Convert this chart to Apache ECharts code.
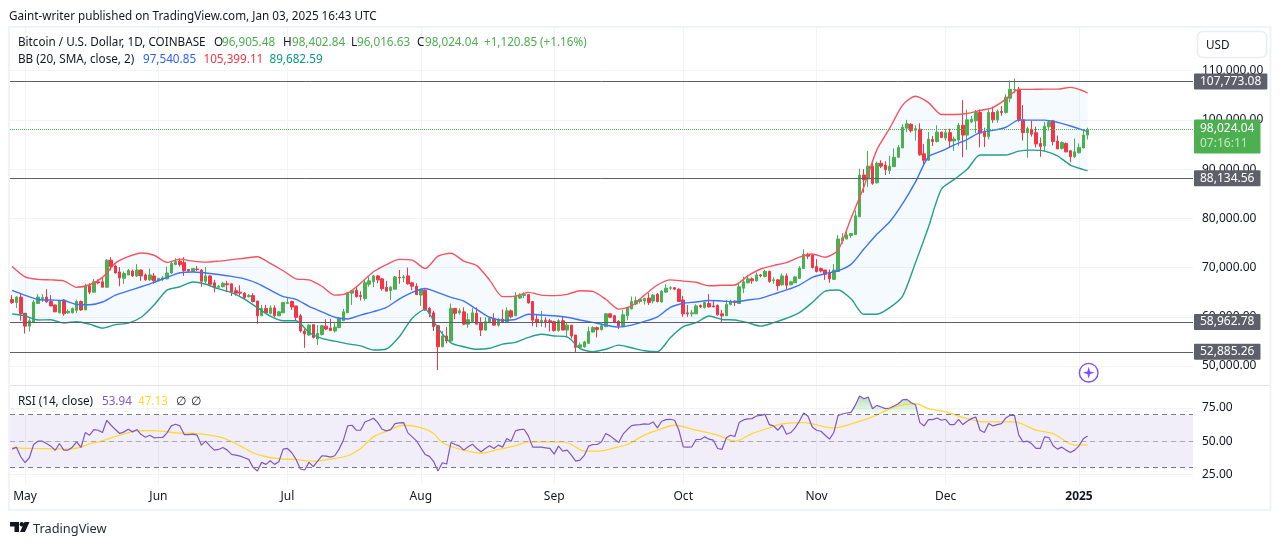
<!DOCTYPE html>
<html><head><meta charset="utf-8">
<style>html,body{margin:0;padding:0;background:#fff}#c{width:1281px;height:545px}</style>
<script src="https://cdn.jsdelivr.net/npm/echarts@6/dist/echarts.min.js"></script>
</head><body><div id="c"></div>
<script>
const opensK=[63.5,62.9,64.0,60.7,58.1,58.9,62.7,63.7,64.0,63.1,
62.4,60.8,63.4,60.8,60.8,61.3,63.1,61.4,66.3,65.0,
67.1,67.1,66.0,71.5,70.3,69.1,67.8,68.5,69.3,68.3,
69.5,68.5,67.5,68.3,67.3,67.6,67.7,68.9,70.6,71.3,
71.0,69.6,69.2,69.7,69.5,67.2,68.3,66.9,66.0,66.1,
66.7,66.7,65.3,65.0,64.8,64.1,64.3,63.2,60.2,61.7,
60.7,61.8,60.2,60.8,62.7,63.1,62.2,60.2,57.1,56.3,
58.4,55.5,56.4,58.1,57.7,57.1,57.8,59.2,60.8,64.8,
65.4,64.3,63.7,66.6,67.1,68.3,67.7,66.0,65.3,65.6,
68.0,67.9,68.3,66.9,66.2,64.4,65.4,61.7,60.8,58.2,
53.9,56.1,55.1,61.7,60.8,61.0,58.5,59.0,60.7,58.8,
57.3,58.8,59.6,58.3,59.5,58.9,61.2,60.2,63.8,64.3,
64.5,63.1,59.5,58.9,59.3,59.2,59.0,57.2,59.2,57.3,
58.3,56.3,53.8,53.9,54.6,56.9,57.8,57.4,58.0,60.6,
60.2,59.1,58.0,60.2,61.6,62.6,63.1,63.2,63.8,63.2,
64.6,63.0,65.0,65.8,65.9,65.6,63.4,60.8,60.6,60.6,
62.3,61.9,62.7,62.2,62.3,60.6,60.2,62.5,63.2,62.7,
65.8,66.9,67.7,67.3,68.5,68.2,69.2,67.3,67.5,66.5,
68.3,66.5,66.9,67.8,69.8,72.7,72.5,70.2,69.8,69.5,
68.9,67.6,69.2,75.4,75.8,76.5,76.7,80.3,88.8,88.0,
90.6,87.2,91.2,90.8,89.7,90.5,92.4,94.3,98.3,99.1,
97.9,98.1,93.1,91.8,96.0,95.6,97.5,96.3,97.4,95.7,
95.9,98.9,96.9,99.6,99.8,101.5,97.5,96.6,101.5,100.0,
101.7,101.5,104.4,106.1,106.2,100.0,97.4,98.1,97.4,95.2,
94.7,98.6,99.8,95.7,94.2,95.2,93.7,92.5,93.3,94.3,
96.905];
const closesK=[62.9,64.0,60.6,58.1,59.2,63.0,64.0,63.9,63.0,62.2,
61.0,63.3,60.6,61.1,61.7,63.1,61.4,66.2,65.0,67.1,
66.9,66.0,71.5,70.2,68.9,67.9,68.8,69.4,68.3,69.5,
68.3,67.5,68.5,67.3,67.8,67.9,68.9,70.8,71.2,70.6,
69.4,69.3,69.8,69.6,67.2,68.3,66.6,65.9,66.2,66.8,
66.5,65.0,64.8,64.8,63.9,64.3,63.1,60.2,61.7,60.8,
61.8,60.2,61.0,62.9,62.9,62.0,59.9,57.1,56.5,58.3,
55.8,56.6,58.2,57.5,57.2,57.9,59.7,61.0,64.9,65.3,
64.1,64.1,66.9,67.3,68.3,67.5,65.7,65.2,66.0,68.1,
67.9,68.1,66.7,66.2,64.5,65.6,61.4,60.7,58.0,53.9,
56.1,55.1,61.7,60.7,61.2,58.5,59.4,60.8,58.5,57.3,
59.0,59.7,58.3,59.5,58.9,61.2,60.0,64.2,64.3,64.6,
62.8,59.3,58.9,59.3,59.0,58.9,57.2,59.2,57.3,58.3,
56.1,53.8,54.3,54.9,57.0,57.8,57.4,58.2,60.6,59.9,
58.9,58.1,60.4,61.8,63.1,63.3,63.5,63.7,62.9,64.4,
63.1,65.2,65.8,65.9,65.6,63.1,60.6,60.6,60.8,62.2,
62.0,62.9,62.0,62.0,60.4,60.2,62.5,63.2,62.9,66.1,
67.1,67.7,67.3,68.5,68.3,69.2,67.2,67.5,66.3,68.3,
66.4,67.1,68.1,69.9,72.7,72.3,70.0,69.2,69.3,68.6,
67.7,69.5,75.8,76.0,76.6,76.9,80.5,88.8,87.8,90.6,
87.1,91.2,90.6,89.9,90.6,92.4,94.4,98.5,99.2,97.8,
98.2,92.9,91.8,96.1,95.6,97.5,96.4,97.4,95.7,96.1,
98.9,96.9,100.0,100.1,101.5,97.3,96.6,101.5,100.0,101.7,
101.5,104.6,106.2,106.2,100.0,97.4,98.2,97.1,95.1,94.6,
98.7,99.6,95.6,94.1,95.4,93.5,92.5,93.5,94.4,96.9,
98.024];
const lowsK=[62.6,61.8,59.2,56.6,57.0,58.9,62.6,63.0,62.9,62.2,
61.0,60.7,60.2,60.6,60.7,60.8,61.2,61.4,64.6,65.0,
66.6,66.0,66.0,69.4,68.8,66.2,66.7,68.5,68.1,68.1,
67.3,67.3,67.3,66.7,67.3,67.3,67.6,68.7,70.5,70.2,
68.3,69.2,69.2,69.3,66.1,66.8,66.3,65.0,65.7,66.0,
65.0,64.2,64.3,64.3,63.5,63.9,62.9,58.6,60.2,60.7,
60.5,60.0,60.2,60.8,62.6,61.4,59.3,56.8,53.7,56.1,
55.6,54.3,56.2,57.3,57.1,56.8,57.7,59.2,60.8,62.4,
63.9,63.3,63.3,66.1,66.0,66.8,65.3,65.2,63.4,65.6,
66.7,67.0,66.5,65.4,64.4,62.2,61.2,59.9,57.1,49.2,
53.8,54.6,54.9,59.5,60.4,58.3,57.8,58.8,58.5,56.1,
57.2,58.7,58.3,58.0,58.7,58.8,59.7,60.2,63.6,63.8,
62.7,58.1,57.9,58.0,57.8,57.0,57.0,57.0,57.3,55.8,
55.6,52.7,53.7,53.7,54.6,56.8,55.8,57.2,57.9,59.7,
58.7,57.5,57.9,59.3,61.5,62.4,62.7,62.5,62.4,62.7,
62.9,62.9,64.9,65.4,65.4,63.0,60.0,60.0,60.0,60.6,
61.8,61.7,61.9,62.0,60.2,58.9,60.2,62.3,62.2,62.6,
64.8,66.8,66.7,67.1,68.0,68.0,66.9,66.7,65.3,66.3,
65.6,66.4,66.8,67.7,69.7,71.7,69.8,69.0,69.0,67.5,
66.9,67.5,69.2,74.8,75.7,76.0,76.7,80.3,85.2,86.4,
86.8,87.1,90.2,88.8,89.0,90.4,92.4,94.3,97.5,97.4,
95.8,92.7,90.8,91.7,94.7,95.4,96.3,95.8,94.4,93.7,
94.7,92.4,93.9,99.3,97.3,94.4,94.5,96.0,99.4,99.4,
100.8,101.3,103.6,105.4,99.6,95.8,92.3,96.6,94.4,92.5,
93.5,97.8,94.8,94.1,94.0,93.4,91.4,92.2,93.2,94.2,
96.017];
const highsK=[64.4,64.2,64.8,60.7,59.7,63.4,64.6,64.6,65.6,64.4,
62.4,63.4,63.6,61.5,61.9,63.5,63.3,66.7,66.8,67.7,
67.6,68.1,71.7,72.1,70.6,70.1,69.2,69.7,69.6,70.7,
69.6,68.8,69.8,68.9,67.8,68.3,70.2,71.2,71.9,71.9,
72.1,69.7,69.9,70.3,69.7,70.1,68.4,67.5,66.5,67.1,
67.3,66.8,66.0,66.4,65.0,64.6,64.8,63.2,62.4,62.4,
62.3,62.3,61.2,63.0,63.9,63.3,62.2,60.6,57.5,58.5,
58.5,58.3,58.3,59.5,59.6,58.7,59.9,61.6,65.0,65.4,
66.2,65.2,67.6,68.1,68.5,68.5,67.9,67.3,66.2,68.3,
69.5,68.5,70.0,67.1,66.8,65.7,65.6,62.0,61.2,58.3,
57.1,57.9,62.7,61.8,61.7,61.9,60.7,61.8,61.9,59.9,
59.9,59.9,60.7,59.7,61.5,61.9,61.5,65.0,64.8,65.0,
64.6,63.2,60.4,61.2,59.9,59.6,59.2,59.5,60.0,58.7,
58.3,56.3,54.8,55.1,58.0,58.1,58.0,58.7,60.7,60.7,
60.4,59.3,61.4,61.9,64.1,64.1,63.7,63.9,64.8,64.6,
64.8,65.4,66.6,66.2,66.0,65.8,64.2,62.4,61.4,62.5,
62.5,63.1,64.6,63.3,62.5,61.4,63.4,63.5,63.3,66.8,
68.1,68.5,68.0,69.0,68.7,69.5,69.4,68.0,67.6,68.8,
68.8,67.3,68.3,70.3,73.7,73.0,72.6,71.7,70.0,69.5,
69.6,70.7,76.6,77.0,77.4,76.9,81.6,90.1,90.0,93.7,
91.8,91.5,91.8,91.6,92.7,94.2,94.9,99.1,100.0,99.3,
98.9,99.3,95.1,97.5,96.7,98.9,97.6,98.1,98.2,96.6,
99.4,104.0,102.1,100.8,102.0,102.1,98.4,102.1,102.7,102.1,
102.8,105.2,108.0,108.4,106.7,103.0,98.6,99.8,98.6,96.4,
99.6,99.8,100.0,96.8,95.6,95.4,93.9,96.2,95.2,98.1,
98.403];
const bandDays=[0,3,6,9,12,15,18,21,24,27,30,33,36,39,42,45,48,51,54,57,60,63,66,69,72,
75,78,81,84,87,90,93,96,99,102,105,108,111,114,117,120,123,126,129,132,135,138,141,144,147,
150,153,156,159,162,165,168,171,174,177,180,183,186,189,192,195,198,201,204,207,210,213,216,219,222,225,228,231,234,237,240,243,246,249,250];
const bbUpperK=[70.2,68.1,67.6,67.5,67.3,66.0,66.5,68.0,70.9,72.2,72.95,72.5,71.05,71.7,71.3,71.1,71.3,71.6,71.9,72.2,70.85,69.35,67.7,67.5,66.2,
64.4,64.8,66.8,69.15,70.6,71.65,71.5,69.8,72.3,72.9,71.3,70.4,67.45,64.1,64.2,64.95,64.4,64.3,64.55,65.3,65.15,63.55,61.55,62.2,64.4,
66.45,67.5,67.25,67.0,66.3,66.4,66.45,68.3,69.7,70.4,71.0,72.1,72.75,72.1,73.55,80.0,86.4,93.9,98.3,103.0,104.8,103.5,101.1,101.1,101.3,101.9,102.5,104.2,106.2,106.2,106.25,106.25,106.6,105.9,105.399];
const bbMiddleK=[65.35,64.35,63.5,63.4,63.3,62.5,62.45,63.0,64.4,65.25,66.1,67.0,68.0,68.95,69.1,68.9,68.6,68.2,67.7,66.8,65.4,64.1,63.55,62.1,61.0,
59.9,59.55,60.35,61.05,61.9,63.6,64.95,65.75,64.9,63.95,63.2,61.5,59.9,59.3,59.45,60.5,60.35,60.2,59.9,59.35,58.85,58.3,57.9,58.3,59.05,
60.0,61.9,62.75,63.0,63.3,63.2,63.0,63.4,63.75,64.6,65.45,66.45,68.0,68.75,69.35,70.65,73.75,76.75,79.3,83.0,87.4,92.5,93.65,94.9,96.0,97.45,97.85,98.5,99.95,99.95,99.95,99.5,98.75,97.9,97.541];
const bbLowerK=[60.55,60.15,59.35,59.4,58.75,59.0,58.5,57.7,58.4,58.7,59.9,62.4,65.4,66.1,67.05,66.6,65.65,64.9,63.6,61.85,60.15,59.2,59.2,56.8,55.6,
55.05,54.5,54.1,53.25,53.45,55.95,59.7,61.5,57.65,54.7,53.9,53.4,53.6,54.45,54.8,55.8,56.45,56.1,55.9,53.55,52.9,53.4,54.25,53.7,53.1,
52.9,55.75,58.0,58.8,60.15,59.45,59.35,58.8,58.1,58.8,59.7,60.85,62.9,65.2,65.45,63.65,60.5,60.5,61.85,64.2,71.0,78.2,85.9,87.9,89.95,92.85,92.85,92.85,93.65,93.85,93.65,92.7,90.8,89.9,89.683];
const rsiValues=[44,45.5,38.25,33.75,37.5,47.5,50,50,48.25,46.25,
43,48.25,43.25,43.25,45.5,49.5,45.25,56.5,54.5,58.75,
58.25,56.5,65.75,62,58.75,55.75,57,59,57,58.75,
55,53,54.5,52.5,52.75,52.75,56.25,61.5,62.75,61.5,
55,55,55.25,54.5,47,50,46.25,43.25,43.75,45.25,
43.25,40,39.5,38.75,37.5,36.25,30.25,27.5,34,32.5,
35.25,32.5,34.5,44,44.5,41.25,36.25,29,28.25,34,
30.75,35,39,38.75,38,39,44,50.75,61.5,62,
58.25,58.25,64.5,65.75,67.25,64,59,57.75,58.75,63.25,
63.75,64,56.25,53.25,50.25,45,40,38.5,34.5,27.5,
33.75,32.75,49,47.5,46.25,43.25,45.75,47.75,44.5,42,
44.5,46.5,44.5,47,45.5,52,50,57.75,58.75,59,
54,45.5,45.5,45.5,45,44.5,40.25,46.25,42.5,43.25,
39.5,35,35.75,39.25,46.25,47.5,47.5,49.5,55.75,54,
51.5,49,55.25,58.75,61.75,62.25,62.5,63,62.75,64.5,
60,65,66.25,66.5,65.75,58.25,45.75,45.5,45.75,51.25,
51.25,53.25,51.5,50.75,44.5,43.75,52.5,54.5,53.5,64,
66,66.75,67,69,69.5,70.25,62.5,61.5,58.25,62,
55.25,56.5,60,65,71.25,68.75,60.75,58.25,57.5,54.5,
51.5,56.5,69.5,70.5,71.25,71.75,77,84,82,83.25,
74.5,77,75.75,74.5,75,76.5,78.25,81.25,81.5,79,
77.5,64,61.5,66.25,66.25,67.5,65.75,66.5,62.5,62.5,
66.5,62.5,65,67,68.25,58.25,56.5,63.25,61.5,62.5,
63.25,67.5,69.5,69.5,54.5,49.5,50,48,44.5,44.5,
53.25,52.75,46.5,44,45.5,43.25,41.5,43.25,46.5,51.75,
53.94];
const rsiMaDays=[0,2,5,10,13,16,18,21,25,29,32,35,38,42,46,49,53,56,59,63,66,69,71,74,78,81,84,87,91,95,98,100,104,109,113,117,120,125,128,130,133,137,140,143,147,150,154,159,164,168,172,176,179,184,191,194,200,205,210,213,217,222,226,233,238,242,247,250];
const rsiMaValues=[45.25,44.75,44.5,44.25,44,45.5,48,50.25,54.5,57.75,58,57.5,56.25,56,54.5,52.5,46.5,41.25,38.25,36.5,36.25,35,35,36.5,39,44.5,53.25,57.5,62,60.25,55.75,49,44,41,43.75,46.5,49.5,49.5,49.5,47.5,42.5,42.75,45,47.5,54.5,58.25,62,58.25,54.5,50,55.75,60,63,64,60,62,68.25,75.75,78.25,74.5,72,67,64.5,64.5,58.25,55.75,47,47.13];
const priceTicks=[50000,60000,70000,80000,90000,100000,110000];
const rsiTicks=[25,50,75];
const rsiLevels=[70,50,30];
const keyLevels=[107773.08,88134.56,58962.78,52885.26];
const lastPrice=98024.04;
const countdown='07:16:11';
const monthNames=['Jan','Feb','Mar','Apr','May','Jun','Jul','Aug','Sep','Oct','Nov','Dec'];
const dayCount=275;

const dates=[];
for(let i=0;i<dayCount;i++){dates.push(new Date(Date.UTC(2024,3,28+i)).toISOString().slice(0,10));}
const candles=opensK.map((o,i)=>[o*1000,closesK[i]*1000,lowsK[i]*1000,highsK[i]*1000]);
const zip=(days,vals,m)=>days.map((d,i)=>[d,vals[i]*m]);
const money=v=>v.toLocaleString('en-US',{minimumFractionDigits:2,maximumFractionDigits:2});
const isMonth=(idx,val)=>val.slice(8)==='01';
const FONT='"Noto Sans"';
const INK='#131722',UP='#4caf50',DOWN='#f23645',FRAME='#f0f3fa',GRID='#f2f3f6';

const tagLabel=(v,extra)=>Object.assign({show:true,position:'end',distance:1,color:'#fff',fontFamily:FONT,fontSize:12,backgroundColor:'#5d606b',padding:[2,6,2,6],borderRadius:1,formatter:()=>money(v)},extra||{});
const keyLines=keyLevels.map(v=>({yAxis:v,lineStyle:{color:'#5d606b',width:1,type:'solid'},label:tagLabel(v)}));
const lastLine={yAxis:lastPrice,lineStyle:{color:UP,width:1,type:'dotted'},label:tagLabel(lastPrice,{backgroundColor:UP,padding:[2,6,2,6],offset:[0,7],formatter:()=>'{a|'+money(lastPrice)+'}\n{b|'+countdown+'}',rich:{a:{color:'#fff',fontFamily:FONT,fontSize:12,lineHeight:15},b:{color:'#c8e6c9',fontFamily:FONT,fontSize:12,lineHeight:15}}})};

const legendFont='11.7px '+FONT;
const legendPieces=[
 [18,43,'Bitcoin / U.S. Dollar, 1D, COINBASE',INK],
 [214,43,'O',INK],[222,43,'96,905.48',UP],
 [283,43,'H',INK],[292,43,'98,402.84',UP],
 [351,43,'L',INK],[357,43,'96,016.63',UP],
 [417,43,'C',INK],[425,43,'98,024.04',UP],
 [484,43,'+1,120.85 (+1.16%)',UP],
 [18,60,'BB (20, SMA, close, 2)',INK],
 [143,60,'97,540.85','#2962ff'],[203.5,60,'105,399.11','#f23645'],[269.5,60,'89,682.59','#089981'],
 [18,402,'RSI (14, close)',INK],
 [102,402,'53.94','#7e57c2'],[138,402,'47.13','#fdd835'],[176,402,'∅',INK],[191,402,'∅',INK]
];
const legendTexts=legendPieces.map(p=>({type:'text',silent:true,z:11,style:{x:p[0],y:p[1],text:p[2],fill:p[3],font:legendFont,textVerticalAlign:'middle'}}));

const lineBase={type:'line',showSymbol:false,symbol:'none',silent:true,animation:false};
const bandSmooth=0.25;
const option={
 animation:false,
 grid:[{left:10,right:88,top:28,height:357},{left:10,right:88,top:386,height:98}],
 xAxis:[
  {type:'category',gridIndex:0,data:dates,axisLine:{show:false},axisTick:{show:false},axisLabel:{show:false},
   splitLine:{show:true,interval:isMonth,alignWithLabel:true,lineStyle:{color:GRID,width:1}}},
  {type:'category',gridIndex:1,data:dates,axisLine:{show:false},axisTick:{show:false},
   axisLabel:{show:true,interval:isMonth,color:INK,fontFamily:FONT,fontSize:12,margin:7,
     formatter:v=>{const y=v.slice(0,4),m=+v.slice(5,7);return m===1?'{b|'+y+'}':monthNames[m-1];},
     rich:{b:{fontWeight:'bold',color:INK,fontFamily:FONT,fontSize:12}}},
   splitLine:{show:true,interval:isMonth,alignWithLabel:true,lineStyle:{color:GRID,width:1}}}
 ],
 yAxis:[
  {type:'value',gridIndex:0,position:'right',min:46141,max:118657,axisLine:{show:false},
   axisTick:{show:false,customValues:priceTicks},
   axisLabel:{customValues:priceTicks,color:INK,fontFamily:FONT,fontSize:12,margin:9,padding:[0,0,3,0],formatter:money},
   splitLine:{show:true,lineStyle:{color:GRID,width:1}}},
  {type:'value',gridIndex:1,position:'right',min:17.7,max:91.6,axisLine:{show:false},
   axisTick:{show:false,customValues:rsiTicks},
   axisLabel:{customValues:rsiTicks,color:INK,fontFamily:FONT,fontSize:12,margin:9,padding:[3,0,0,0],formatter:v=>v.toFixed(2)},
   splitLine:{show:true,lineStyle:{color:GRID,width:1}}}
 ],
 series:[
  Object.assign({},lineBase,{name:'bbBase',xAxisIndex:0,yAxisIndex:0,stack:'bb',z:1,smooth:bandSmooth,data:zip(bandDays,bbLowerK,1000),lineStyle:{width:0,opacity:0}}),
  Object.assign({},lineBase,{name:'bbFill',xAxisIndex:0,yAxisIndex:0,stack:'bb',z:1,smooth:bandSmooth,data:bandDays.map((d,i)=>[d,(bbUpperK[i]-bbLowerK[i])*1000]),lineStyle:{width:0,opacity:0},areaStyle:{color:'rgba(33,150,243,0.05)',opacity:1}}),
  {type:'candlestick',name:'BTCUSD',xAxisIndex:0,yAxisIndex:0,data:candles,barWidth:3,z:2,silent:true,animation:false,
   itemStyle:{color:UP,color0:DOWN,borderColor:UP,borderColor0:DOWN,borderWidth:1},
   markLine:{silent:true,symbol:'none',animation:false,z:6,data:keyLines.concat([lastLine])}},
  Object.assign({},lineBase,{name:'bbUpper',xAxisIndex:0,yAxisIndex:0,z:3,smooth:bandSmooth,data:zip(bandDays,bbUpperK,1000),lineStyle:{color:'#f7525f',width:1.4}}),
  Object.assign({},lineBase,{name:'bbMiddle',xAxisIndex:0,yAxisIndex:0,z:3,smooth:bandSmooth,data:zip(bandDays,bbMiddleK,1000),lineStyle:{color:'#3f72fb',width:1.4}}),
  Object.assign({},lineBase,{name:'bbLower',xAxisIndex:0,yAxisIndex:0,z:3,smooth:bandSmooth,data:zip(bandDays,bbLowerK,1000),lineStyle:{color:'#22a08a',width:1.4}}),
  Object.assign({},lineBase,{name:'rsiOverbought',xAxisIndex:1,yAxisIndex:1,z:2,data:rsiValues.map(v=>Math.max(v,rsiLevels[0])),lineStyle:{width:0,opacity:0},
   areaStyle:{origin:rsiLevels[0],opacity:1,color:{type:'linear',x:0,y:0,x2:0,y2:1,colorStops:[{offset:0,color:'rgba(76,175,80,0.4)'},{offset:1,color:'rgba(76,175,80,0.03)'}]}}}),
  Object.assign({},lineBase,{name:'rsiMa',xAxisIndex:1,yAxisIndex:1,z:3,smooth:0.3,data:zip(rsiMaDays,rsiMaValues,1),lineStyle:{color:'#fdd835',width:1.3}}),
  Object.assign({},lineBase,{name:'rsi',xAxisIndex:1,yAxisIndex:1,z:4,data:rsiValues,lineStyle:{color:'#7e57c2',width:1.2},
   markArea:{silent:true,itemStyle:{color:'rgba(126,87,194,0.1)'},data:[[{yAxis:rsiLevels[2]},{yAxis:rsiLevels[0]}]]},
   markLine:{silent:true,symbol:'none',animation:false,label:{show:false},
    data:[{yAxis:rsiLevels[0],lineStyle:{color:'#787b86',type:[5,4],width:1}},{yAxis:rsiLevels[1],lineStyle:{color:'rgba(120,123,134,0.55)',type:[5,4],width:1}},{yAxis:rsiLevels[2],lineStyle:{color:'#787b86',type:[5,4],width:1}}]}})
 ],
 graphic:[
  {type:'rect',silent:true,z:0,shape:{x:9,y:27,width:1261.5,height:483},style:{fill:'none',stroke:FRAME,lineWidth:2}},
  {type:'line',silent:true,z:10,shape:{x1:10,y1:385.5,x2:1270,y2:385.5},style:{stroke:'#e0e3eb',lineWidth:1}},
  {type:'rect',silent:true,z:10,shape:{x:1197.5,y:31.5,width:69,height:26,r:5},style:{fill:'#fff',stroke:'#e9ecf2',lineWidth:1.5}},
  {type:'text',silent:true,z:11,style:{x:1206,y:46,text:'USD',font:'11.7px '+FONT,fill:INK,textVerticalAlign:'middle'}},
  {type:'text',silent:true,z:11,style:{x:9,y:16.5,text:'Gaint-writer published on TradingView.com, Jan 03, 2025 16:43 UTC',font:'11.7px '+FONT,fill:INK,textVerticalAlign:'middle'}},
  {type:'circle',silent:true,z:11,shape:{cx:1088.7,cy:372.7,r:9.3},style:{fill:'#fff',stroke:'#7c4dff',lineWidth:1.4}},
  {type:'polygon',silent:true,z:11,shape:{points:[[1088.7,366.7],[1090,371.4],[1094.7,372.7],[1090,374],[1088.7,378.7],[1087.4,374],[1082.7,372.7],[1087.4,371.4]]},style:{fill:'#7c4dff'}},
  {type:'polygon',silent:true,z:11,shape:{points:[[10,522],[19,522],[19,532],[14.5,532],[14.5,526.5],[10,526.5]]},style:{fill:INK}},
  {type:'circle',silent:true,z:11,shape:{cx:21.8,cy:524.2,r:2.2},style:{fill:INK}},
  {type:'polygon',silent:true,z:11,shape:{points:[[24.5,522],[29.5,522],[25,532],[20,532]]},style:{fill:INK}},
  {type:'text',silent:true,z:11,style:{x:33,y:529,text:'TradingView',font:'12.8px '+FONT,fill:'#2a2e39',textVerticalAlign:'middle'}}
 ].concat(legendTexts)
};
echarts.init(document.getElementById('c'),null,{renderer:'canvas'}).setOption(option);
</script></body></html>
